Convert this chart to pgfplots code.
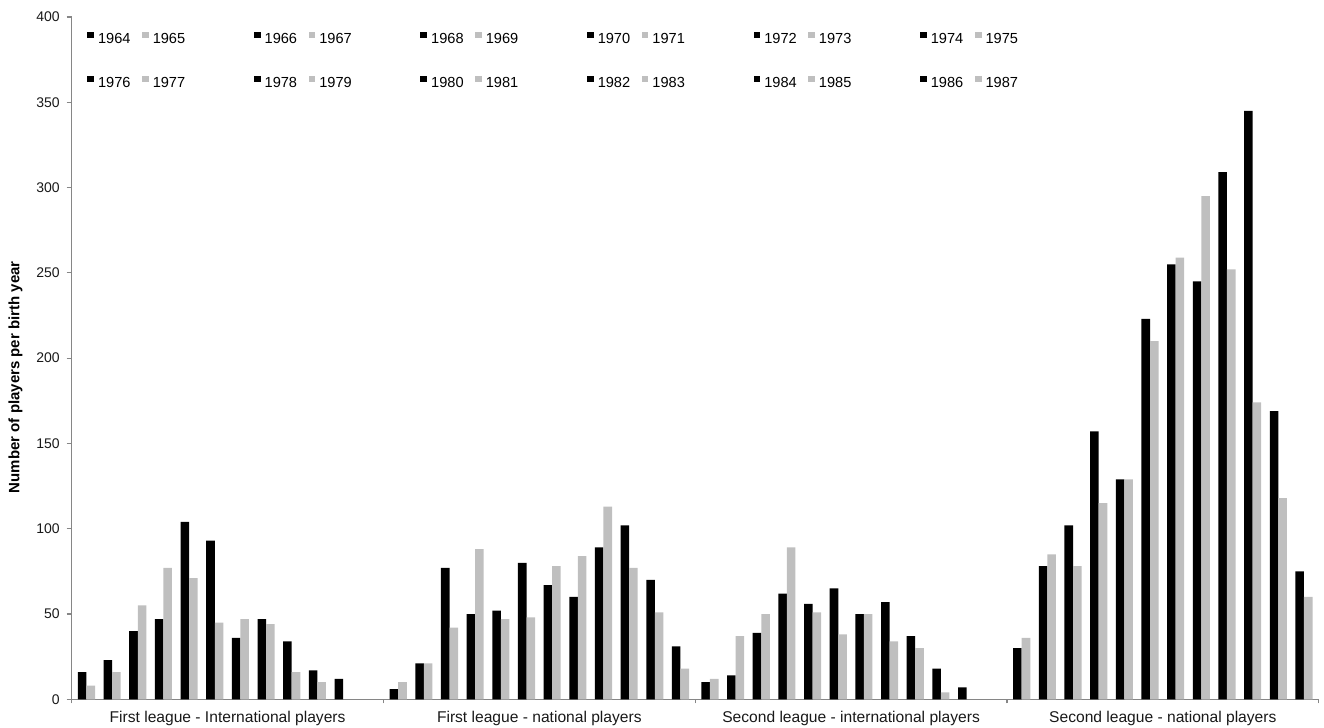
\documentclass[border=0pt]{standalone}
\usepackage{fontspec}
\setmainfont{Liberation Sans}
\usepackage{pgfplots}
\pgfplotsset{compat=1.18}

\definecolor{bargray}{RGB}{191,191,191}
\definecolor{axisgray}{RGB}{134,134,134}
\definecolor{labeltext}{RGB}{25,25,25}

% bar geometry: 12 pairs per category, bar width = one third of the pair pitch
\pgfplotsset{
  sq legend/.style={legend image code/.code={%
      \fill[##1,draw=none] (0pt,0.7pt) rectangle (3.4pt,4.1pt);}},
  blk/.style={ybar, fill=black, draw=none, bar width=0.02743, bar shift=#1, sq legend},
  gry/.style={ybar, fill=bargray, draw=none, bar width=0.02743, bar shift=#1, sq legend},
}
% extra room after each odd-year entry, so the legend reads in pairs
\newcommand{\pairgap}{\rule{28.6pt}{0pt}}

\begin{document}
\begin{tikzpicture}
\begin{axis}[
  scale only axis,
  width=623.5pt, height=341.15pt,
  xmin=-0.5, xmax=3.5,
  ymin=0, ymax=400,
  ytick={0,50,...,400},
  xtick={0,1,2,3},
  xticklabels={First league - International players,
               First league - national players,
               Second league - international players,
               Second league - national players},
  minor xtick={-0.5,0.5,1.5,2.5,3.5},
  axis x line*=bottom, axis y line*=left,
  axis line style={draw=axisgray, line width=0.6pt},
  tick align=outside,
  major tick length=2.5pt,
  minor tick length=2pt,
  xtick style={draw=none},
  minor x tick style={draw=axisgray, line width=0.6pt},
  ytick style={draw=axisgray, line width=0.6pt},
  /pgf/number format/assume math mode=true,
  yticklabel style={font=\fontsize{7}{8}\selectfont, text=labeltext},
  xticklabel style={font=\fontsize{7.8}{9}\selectfont, text=labeltext},
  ylabel={Number of players per birth year},
  ylabel style={font=\fontsize{7.5}{9}\selectfont\bfseries, text=black,
                at={(axis description cs:-0.0451,0.472)}, anchor=center, rotate=0},
  legend columns=12,
  legend cell align=left,
  legend style={
    draw=none, fill=none, inner sep=0pt, outer sep=0pt,
    at={(axis description cs:0.0125,0.982)}, anchor=north west,
    font=\fontsize{7.3}{8}\selectfont, text=black,
    row sep=11.4pt,
    /tikz/every odd column/.append style={column sep=0pt},
    /tikz/every even column/.append style={column sep=3.7pt},
  },
]
% x = 0: First league - international, 1: First league - national,
% 2: Second league - international, 3: Second league - national
\addplot[blk=-0.4663] coordinates {(0,16) (1,6) (2,10) (3,30)};
\addlegendentry{1964}
\addplot[gry=-0.4389] coordinates {(0,8) (1,10) (2,12) (3,36)};
\addlegendentry{1965\pairgap}
\addplot[blk=-0.3840] coordinates {(0,23) (1,21) (2,14) (3,78)};
\addlegendentry{1966}
\addplot[gry=-0.3566] coordinates {(0,16) (1,21) (2,37) (3,85)};
\addlegendentry{1967\pairgap}
\addplot[blk=-0.3017] coordinates {(0,40) (1,77) (2,39) (3,102)};
\addlegendentry{1968}
\addplot[gry=-0.2743] coordinates {(0,55) (1,42) (2,50) (3,78)};
\addlegendentry{1969\pairgap}
\addplot[blk=-0.2194] coordinates {(0,47) (1,50) (2,62) (3,157)};
\addlegendentry{1970}
\addplot[gry=-0.1920] coordinates {(0,77) (1,88) (2,89) (3,115)};
\addlegendentry{1971\pairgap}
\addplot[blk=-0.1371] coordinates {(0,104) (1,52) (2,56) (3,129)};
\addlegendentry{1972}
\addplot[gry=-0.1097] coordinates {(0,71) (1,47) (2,51) (3,129)};
\addlegendentry{1973\pairgap}
\addplot[blk=-0.0548] coordinates {(0,93) (1,80) (2,65) (3,223)};
\addlegendentry{1974}
\addplot[gry=-0.0274] coordinates {(0,45) (1,48) (2,38) (3,210)};
\addlegendentry{1975}
\addplot[blk=0.0275] coordinates {(0,36) (1,67) (2,50) (3,255)};
\addlegendentry{1976}
\addplot[gry=0.0549] coordinates {(0,47) (1,78) (2,50) (3,259)};
\addlegendentry{1977\pairgap}
\addplot[blk=0.1098] coordinates {(0,47) (1,60) (2,57) (3,245)};
\addlegendentry{1978}
\addplot[gry=0.1372] coordinates {(0,44) (1,84) (2,34) (3,295)};
\addlegendentry{1979\pairgap}
\addplot[blk=0.1921] coordinates {(0,34) (1,89) (2,37) (3,309)};
\addlegendentry{1980}
\addplot[gry=0.2195] coordinates {(0,16) (1,113) (2,30) (3,252)};
\addlegendentry{1981\pairgap}
\addplot[blk=0.2744] coordinates {(0,17) (1,102) (2,18) (3,345)};
\addlegendentry{1982}
\addplot[gry=0.3018] coordinates {(0,10) (1,77) (2,4) (3,174)};
\addlegendentry{1983\pairgap}
\addplot[blk=0.3567] coordinates {(0,12) (1,70) (2,7) (3,169)};
\addlegendentry{1984}
\addplot[gry=0.3841] coordinates {(1,51) (3,118)};
\addlegendentry{1985\pairgap}
\addplot[blk=0.4390] coordinates {(1,31) (3,75)};
\addlegendentry{1986}
\addplot[gry=0.4664] coordinates {(1,18) (3,60)};
\addlegendentry{1987}
\end{axis}
\pgfresetboundingbox
\path[use as bounding box] (-35.85pt,-14.35pt) rectangle (626.15pt,349.65pt);
\end{tikzpicture}
\end{document}
